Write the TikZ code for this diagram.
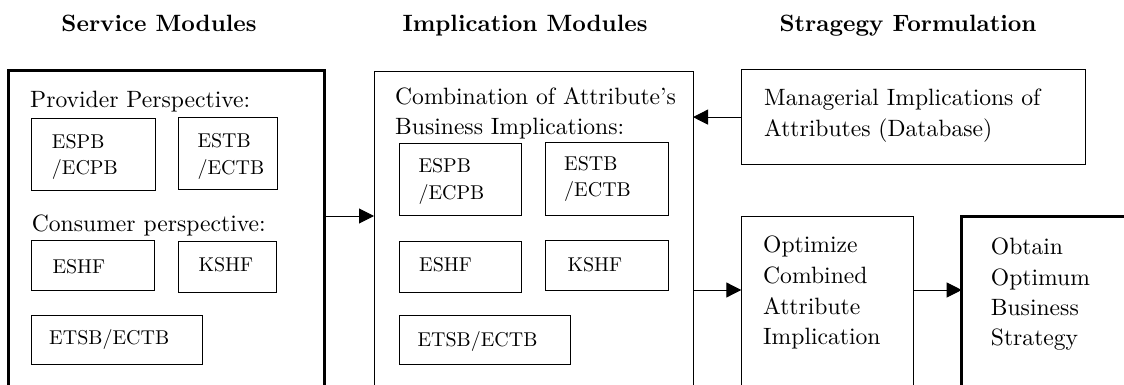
\documentclass[tikz,border=0pt]{standalone}
\usepackage{fontspec}
\setmainfont{lmroman10-regular.otf}[BoldFont=lmroman10-bold.otf, Ligatures=TeX]
\usetikzlibrary{arrows.meta}
\tikzset{
  box/.style={draw, rectangle, line width=1pt, inner sep=0pt, outer sep=0pt, anchor=north west},
  bigbox/.style={draw, rectangle, line width=3.5pt, inner sep=0pt, outer sep=0pt, anchor=north west},
  txt/.style={anchor=base west, inner sep=0pt, font=\fontsize{23.6}{30}\selectfont},
  sm/.style={anchor=base west, inner sep=0pt, font=\fontsize{20}{27}\selectfont},
  ttl/.style={anchor=base, inner sep=0pt, font=\fontsize{23.6}{30}\selectfont\bfseries},
  arr/.style={line width=1pt, -{Triangle[length=15pt,width=15pt]}},
}
\begin{document}
\begin{tikzpicture}[x=1pt,y=-1pt]
\clip (0,0) rectangle (1124,385);
% titles
\node[ttl] (t1) at (159,31.5) {Service Modules};
\node[ttl] (t2) at (525,31.5) {Implication Modules};
\node[ttl] (t3) at (908,31.5) {Stragegy Formulation};

% big boxes
\node[bigbox, minimum width=316.4, minimum height=360] (sm) at (8.3,70.7) {};
\node[box, minimum width=319, minimum height=360] (im) at (374,71.5) {};
\node[box, minimum width=344, minimum height=95.2] (mgr) at (741,69.5) {};
\node[box, minimum width=172, minimum height=200] (opt) at (741.3,216.3) {};
\node[bigbox, minimum width=200, minimum height=200] (obt) at (961.7,216.3) {};

% service module contents
\node[txt] (pp) at (30,107.3) {Provider Perspective:};
\node[box, minimum width=124.3, minimum height=71.7] (s1) at (31,119) {};
\node[sm] (s1a) at (51.7,148.3) {ESPB};
\node[sm] (s1b) at (51.7,175) {/ECPB};
\node[box, minimum width=99.3, minimum height=71.3] (s2) at (178,118) {};
\node[sm] (s2a) at (197.3,147.7) {ESTB};
\node[sm] (s2b) at (197.3,174) {/ECTB};
\node[txt] (cp) at (31.7,231.7) {Consumer perspective:};
\node[box, minimum width=123, minimum height=50] (s3) at (31,240.7) {};
\node[sm] (s3a) at (52.3,273.3) {ESHF};
\node[box, minimum width=98.3, minimum height=50.3] (s4) at (178,241.7) {};
\node[sm] (s4a) at (198.3,271.7) {KSHF};
\node[box, minimum width=171.7, minimum height=49] (s5) at (31,315) {};
\node[sm] (s5a) at (49,344) {ETSB/ECTB};

% implication module contents
\node[txt] (cb1) at (395,105) {Combination of Attribute's};
\node[txt] (cb2) at (395,135) {Business Implications:};
\node[box, minimum width=122.3, minimum height=71] (i1) at (399,144) {};
\node[sm] (i1a) at (418.3,172.3) {ESPB};
\node[sm] (i1b) at (418.3,199) {/ECPB};
\node[box, minimum width=123, minimum height=72.3] (i2) at (545.3,142.7) {};
\node[sm] (i2a) at (564,170.7) {ESTB};
\node[sm] (i2b) at (564,196.5) {/ECTB};
\node[box, minimum width=122.3, minimum height=50.3] (i3) at (399,241.7) {};
\node[sm] (i3a) at (419,271.7) {ESHF};
\node[box, minimum width=123, minimum height=50] (i4) at (545.3,240.7) {};
\node[sm] (i4a) at (567.3,271.7) {KSHF};
\node[box, minimum width=171.3, minimum height=49] (i5) at (399,315) {};
\node[sm] (i5a) at (417.3,346) {ETSB/ECTB};

% strategy formulation contents
\node[txt] (m1) at (764,106) {Managerial Implications of};
\node[txt] (m2) at (764,136.7) {Attributes (Database)};
\node[txt] (o1) at (763,252.3) {Optimize};
\node[txt] (o2) at (763,283.3) {Combined};
\node[txt] (o3) at (763,314) {Attribute};
\node[txt] (o4) at (763,344.3) {Implication};
\node[txt] (b1) at (990.7,254.3) {Obtain};
\node[txt] (b2) at (990.7,285) {Optimum};
\node[txt] (b3) at (990.7,315.3) {Business};
\node[txt] (b4) at (990.7,345.7) {Strategy};

% connectors
\coordinate (r1) at (0,216);
\coordinate (r2) at (0,290);
\draw[arr] (sm.east |- r1) -- (im.west |- r1);
\draw[arr] (mgr.west) -- (im.east |- mgr.west);
\draw[arr] (im.east |- r2) -- (opt.west |- r2);
\draw[arr] (opt.east |- r2) -- (obt.west |- r2);
\end{tikzpicture}
\end{document}
